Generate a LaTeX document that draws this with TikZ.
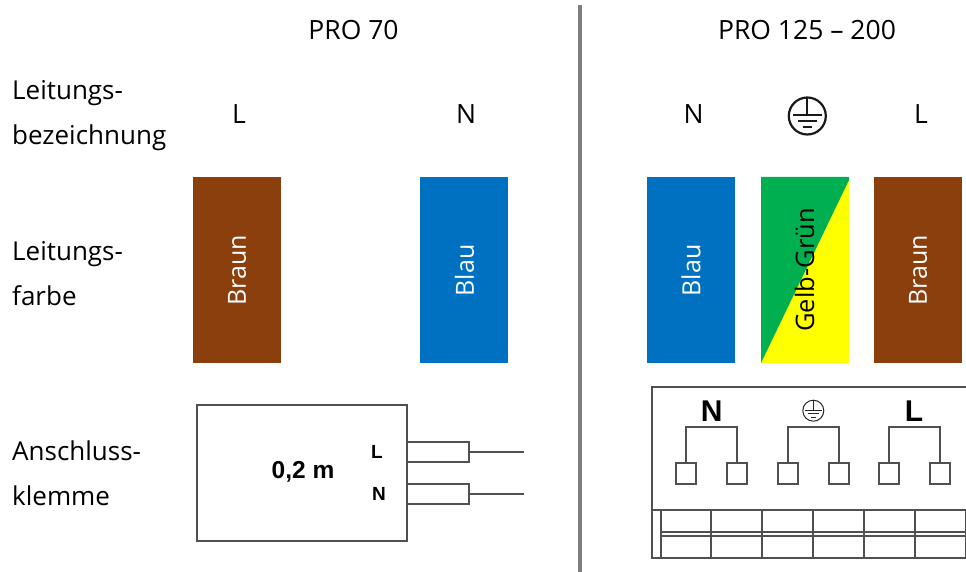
\documentclass[tikz,border=0pt]{standalone}
\usepackage{fontspec}
\setmainfont{Open Sans}
\newfontfamily\arialfont{Liberation Sans}
\definecolor{wbrown}{HTML}{8B3F0C}
\definecolor{wblue}{HTML}{0070C0}
\definecolor{wgreen}{HTML}{00B050}
\definecolor{wyellow}{HTML}{FFFF00}
\definecolor{wline}{HTML}{505050}
\definecolor{wdiv}{HTML}{7F7F7F}
\tikzset{
 lbl/.style={inner sep=0pt,font=\fontsize{26}{45}\selectfont,text=black,align=left},
 head/.style={inner sep=0pt,font=\fontsize{26.5}{30}\selectfont,anchor=center},
 swatch/.style={inner sep=0pt,minimum width=88pt,minimum height=186pt,anchor=north west},
 vtext/.style={inner sep=0pt,rotate=90,font=\fontsize{25}{30}\selectfont},
 wire/.style={draw=wline,line width=2pt},
 tail/.style={draw=wline,line width=2pt},
 term/.style={draw=wline,line width=2pt,fill=white,inner sep=0pt,outer sep=0pt,minimum width=20pt,minimum height=21pt,anchor=center},
 stub/.style={draw=wline,line width=2pt,inner sep=0pt,outer sep=0pt,minimum width=62pt,minimum height=20pt,anchor=north west},
 tlabel/.style={inner sep=0pt,font=\arialfont\bfseries\fontsize{30}{32}\selectfont},
 blabel/.style={inner sep=0pt,font=\arialfont\bfseries\fontsize{19}{20}\selectfont},
}
\begin{document}
\begin{tikzpicture}[x=1pt,y=-1pt]
\useasboundingbox (0,0) rectangle (966,572);
% divider
\fill[wdiv] (578,5) rectangle (582,572);
% headers
\node[head] (h1) at (353.5,30) {PRO 70};
\node[head] (h2) at (807,30) {PRO 125 – 200};
% row labels
\node[lbl,anchor=west] (r1) at (12,115.5) {Leitungs-\\bezeichnung};
\node[lbl,anchor=west] (r2) at (12,273.5) {Leitungs-\\farbe};
\node[lbl,anchor=west] (r3) at (12,473.5) {Anschluss-\\klemme};
% line names
\node[head] (l1) at (239,114) {L};
\node[head] (n1) at (466,114) {N};
\node[head] (n2) at (693.5,114) {N};
\node[head] (l2) at (921,114) {L};
% earth symbol
\coordinate (pe) at (807.3,116);
\draw[line width=2.2pt,draw=black!90] (pe) circle (18.5);
\draw[line width=2.2pt,draw=black!90] (807.3,98) -- (807.3,115) (793,115) -- (822,115) (798,120.7) -- (816.5,120.7) (803,126.7) -- (811.5,126.7);
% swatches
\node[swatch,fill=wbrown] (s1) at (193,177) {};
\node[swatch,fill=wblue] (s2) at (420,177) {};
\node[swatch,fill=wblue] (s3) at (647,177) {};
\node[swatch,fill=wbrown] (s5) at (874,177) {};
\fill[wyellow] (761,177) rectangle (849,363);
\fill[wgreen] (761,177) -- (849,177) -- (849,180) -- (761,363) -- cycle;
\node[vtext,text=white] (t1) at (237,270) {Braun};
\node[vtext,text=white] (t2) at (464.5,270.5) {Blau};
\node[vtext,text=white] (t3) at (691,270.5) {Blau};
\node[vtext,text=black,font=\fontsize{25.5}{30}\selectfont] (t4) at (804.5,270) {Gelb-Grün};
\node[vtext,text=white] (t5) at (918,270) {Braun};
% PRO 70 terminal
\node[stub] (st1) at (407,442) {};
\node[stub] (st2) at (407,484) {};
\node[draw=wline,line width=2pt,fill=white,inner sep=0pt,outer sep=0pt,minimum width=210pt,minimum height=136pt,anchor=north west] (k) at (197,405) {};
\coordinate (w1) at (524,452);
\coordinate (w2) at (524,494);
\draw[tail] (st1.east) -- (st1.east -| w1);
\draw[tail] (st2.east) -- (st2.east -| w2);
\node[inner sep=0pt,font=\arialfont\bfseries\fontsize{24.5}{26}\selectfont] (len) at (303,471.5) {0,2 m};
\node[blabel] (kl) at (377,452) {L};
\node[blabel] (kn) at (379,494) {N};
% PRO 125-200 terminal
\draw[wire] (966,387) -- (652,387) -- (652,558) -- (966,558);
\draw[wire] (652,510) -- (966,510);
\draw[wire] (661,532) -- (966,532);
\draw[wire] (661,536) -- (966,536);
\foreach \x in {661,711,762,813,864,915,966}{\draw[wire] (\x,510) -- (\x,558);}
\node[term] (a1) at (686,473) {};
\node[term] (a2) at (737,473) {};
\node[term] (b1) at (788,473) {};
\node[term] (b2) at (839,473) {};
\node[term] (c1) at (889,473) {};
\node[term] (c2) at (940,473) {};
\coordinate (ta) at (712,427);
\coordinate (tb) at (813,427);
\coordinate (tc) at (915,427);
\draw[wire] (a1.north) |- (ta) -| (a2.north);
\draw[wire] (b1.north) |- (tb) -| (b2.north);
\draw[wire] (c1.north) |- (tc) -| (c2.north);
\node[tlabel] (tn) at (711.7,410.7) {N};
\node[tlabel] (tl) at (914,410.7) {L};
\coordinate (pf) at (813.3,410.7);
\draw[line width=1pt,draw=black!85] (pf) circle (10.5);
\draw[line width=1pt,draw=black!85] (813.3,400.5) -- (813.3,410) (805,410) -- (821.5,410) (808,413.5) -- (818.5,413.5) (811,417) -- (815.5,417);
\end{tikzpicture}
\end{document}
